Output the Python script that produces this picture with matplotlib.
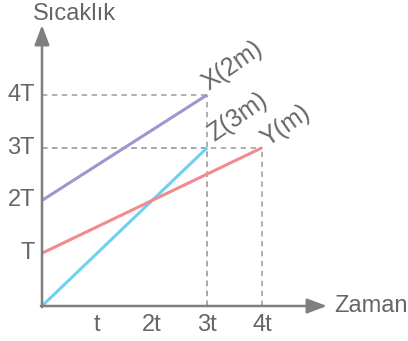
import matplotlib
matplotlib.use("Agg")
import matplotlib.pyplot as plt

# Data (in units of t and T)
x_ticks = [1, 2, 3, 4]
x_tick_labels = ["t", "2t", "3t", "4t"]
y_ticks = [1, 2, 3, 4]
y_tick_labels = ["T", "2T", "3T", "4T"]

series_names = ["X(2m)", "Z(3m)", "Y(m)"]
series_x = [[0, 3], [0, 3], [0, 4]]
series_y = [[2, 4], [0, 3], [1, 3]]
series_colors = ["#9b98cf", "#6fd0f2", "#f28a8e"]

# pixel mapping
W, H = 408, 341
ox, oy = 42, 306
ux, uy = 55.1, 52.8

fig = plt.figure(figsize=(W / 100, H / 100), dpi=100)
ax = fig.add_axes([0, 0, 1, 1])
ax.set_xlim(-ox / ux, (W - ox) / ux)
ax.set_ylim(-(H - oy) / uy, oy / uy)
ax.axis("off")

def px(x):
    return (x - ox) / ux

def py(y):
    return (oy - y) / uy

txt_color = "#666666"
axis_color = "#7f7f7f"
dash_color = "#aaaaaa"
font = ["Liberation Sans", "DejaVu Sans"]
fs = 17

# dashed guides
for sx, sy in zip(series_x, series_y):
    xe, ye = sx[-1], sy[-1]
    ax.plot([0, xe], [ye, ye], ls=(0, (3, 2.5)), color=dash_color, lw=1.3, zorder=1)
    ax.plot([xe, xe], [0, ye], ls=(0, (3, 2.5)), color=dash_color, lw=1.3, zorder=1)

# series lines
for sx, sy, c in zip(series_x, series_y, series_colors):
    ax.plot(sx, sy, color=c, lw=2.2, solid_capstyle="butt", zorder=3)

# axes with arrows
ax.annotate("", xy=(px(327), 0), xytext=(-0.02, 0),
            arrowprops=dict(arrowstyle="-|>,head_length=1.2,head_width=0.45",
                            color=axis_color, lw=1.8, mutation_scale=10,
                            shrinkA=0, shrinkB=0), zorder=4)
ax.annotate("", xy=(0, py(25)), xytext=(0, -0.02),
            arrowprops=dict(arrowstyle="-|>,head_length=1.2,head_width=0.45",
                            color=axis_color, lw=1.8, mutation_scale=10,
                            shrinkA=0, shrinkB=0), zorder=4)

# axis titles
ax.text(px(334), 0, "Zaman", color=txt_color, fontsize=fs, family=font,
        ha="left", va="center")
ax.text(px(74), py(14), "Sıcaklık", color=txt_color, fontsize=fs, family=font,
        ha="center", va="center")

# tick labels
for v, lab in zip(y_ticks, y_tick_labels):
    ax.text(px(35), v, lab, color=txt_color, fontsize=fs, family=font,
            ha="right", va="center")
for v, lab in zip(x_ticks, x_tick_labels):
    ax.text(v, py(325), lab, color=txt_color, fontsize=fs, family=font,
            ha="center", va="center")

# rotated series labels
label_anchor = [(209, 91), (214, 142), (268, 147)]
for name, (ax_px, ay_px) in zip(series_names, label_anchor):
    ax.text(px(ax_px), py(ay_px), name, color=txt_color, fontsize=18, family=font,
            ha="left", va="baseline", rotation=35, rotation_mode="anchor")

fig.savefig("out.png", dpi=100)
